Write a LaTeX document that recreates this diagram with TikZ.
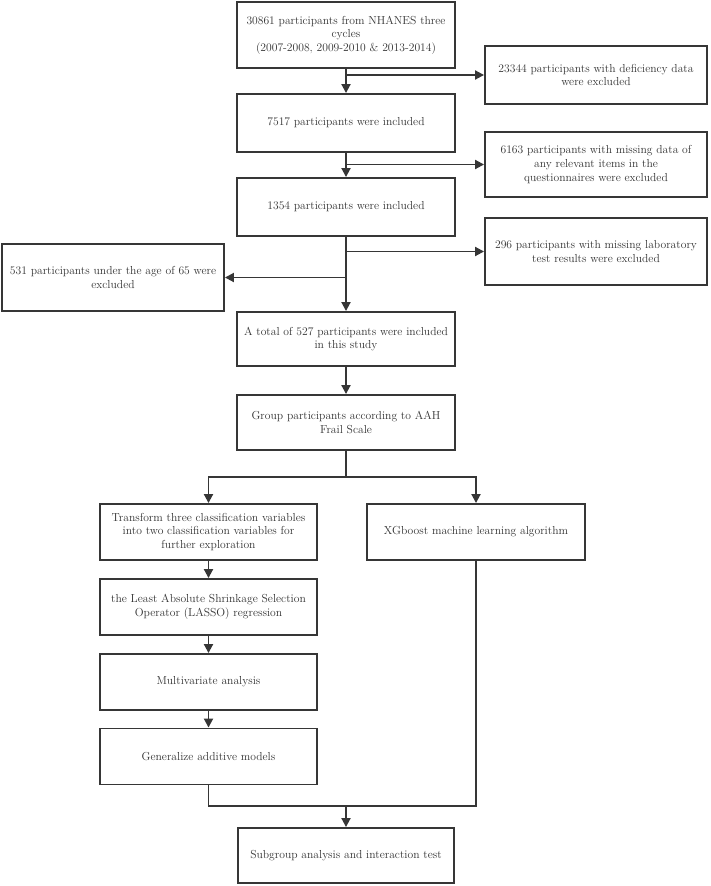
\documentclass[tikz,border=0pt]{standalone}
\usetikzlibrary{arrows.meta}
\definecolor{linegray}{HTML}{363636}
\definecolor{textgray}{HTML}{333333}
\begin{document}
\begin{tikzpicture}[x=1pt,y=-1pt,
  box/.style={draw=linegray, line width=1.9pt, fill=white, align=center,
    inner sep=0pt, text=textgray, font=\fontsize{11.6}{13.6}\selectfont},
  conn/.style={draw=linegray, line width=1.9pt},
  arr/.style={conn, -{Triangle[length=9pt,width=9pt]}}]
\useasboundingbox (0,0) rectangle (710,886);
% main column
\node[box, minimum width=218pt, minimum height=66pt] (b1) at (346,35)
  {30861 participants from NHANES three\\cycles\\(2007-2008, 2009-2010 \& 2013-2014)};
\node[box, minimum width=218pt, minimum height=58pt] (b2) at (346,123)
  {7517 participants were included};
\node[box, minimum width=218pt, minimum height=58pt] (b3) at (346,207)
  {1354 participants were included};
\node[box, minimum width=218pt, minimum height=54pt] (b4) at (346,339)
  {A total of 527 participants were included\\in this study};
\node[box, minimum width=218pt, minimum height=55pt] (b5) at (346,422.5)
  {Group participants according to AAH\\Frail Scale};
% exclusions
\node[box, minimum width=222pt, minimum height=58pt] (e1) at (596,75)
  {23344 participants with deficiency data\\were excluded};
\node[box, minimum width=222pt, minimum height=65pt] (e2) at (596,164.5)
  {6163 participants with missing data of\\any relevant items in the\\questionnaires were excluded};
\node[box, minimum width=222pt, minimum height=67pt] (e3) at (596,251.5)
  {296 participants with missing laboratory\\test results were excluded};
\node[box, minimum width=222pt, minimum height=67pt] (e4) at (113,277.5)
  {531 participants under the age of 65 were\\excluded};
% left analysis column
\node[box, minimum width=217pt, minimum height=56pt] (t1) at (208.5,532)
  {Transform three classification variables\\into two classification variables for\\further exploration};
\node[box, minimum width=217pt, minimum height=56pt] (t2) at (208.5,607)
  {the Least Absolute Shrinkage Selection\\Operator (LASSO) regression};
\node[box, minimum width=217pt, minimum height=56pt] (t3) at (208.5,682)
  {Multivariate analysis};
\node[box, minimum width=217pt, minimum height=56pt] (t4) at (208.5,756.5)
  {Generalize additive models};
% right analysis column
\node[box, minimum width=218pt, minimum height=56pt] (xg) at (476,532)
  {XGboost machine learning algorithm};
% final
\node[box, minimum width=216pt, minimum height=55pt] (sg) at (346,855.5)
  {Subgroup analysis and interaction test};
% connectors
\draw[arr] (b1.south) -- (b2.north);
\draw[arr] (b1.south |- e1.west) -- (e1.west);
\draw[arr] (b2.south) -- (b3.north);
\draw[arr] (b2.south |- e2.west) -- (e2.west);
\draw[arr] (b3.south) -- (b4.north);
\draw[arr] (b3.south |- e3.west) -- (e3.west);
\draw[arr] (b3.south |- e4.east) -- (e4.east);
\draw[arr] (b4.south) -- (b5.north);
\coordinate (split) at (346,477);
\draw[conn] (b5.south) -- (split);
\draw[arr] (split) -| (t1.north);
\draw[arr] (split) -| (xg.north);
\draw[arr] (t1.south) -- (t2.north);
\draw[arr] (t2.south) -- (t3.north);
\draw[arr] (t3.south) -- (t4.north);
\coordinate (merge) at (346,806);
\draw[conn] (t4.south) |- (merge);
\draw[conn] (xg.south) |- (merge);
\draw[arr] (merge) -- (sg.north);
\end{tikzpicture}
\end{document}
